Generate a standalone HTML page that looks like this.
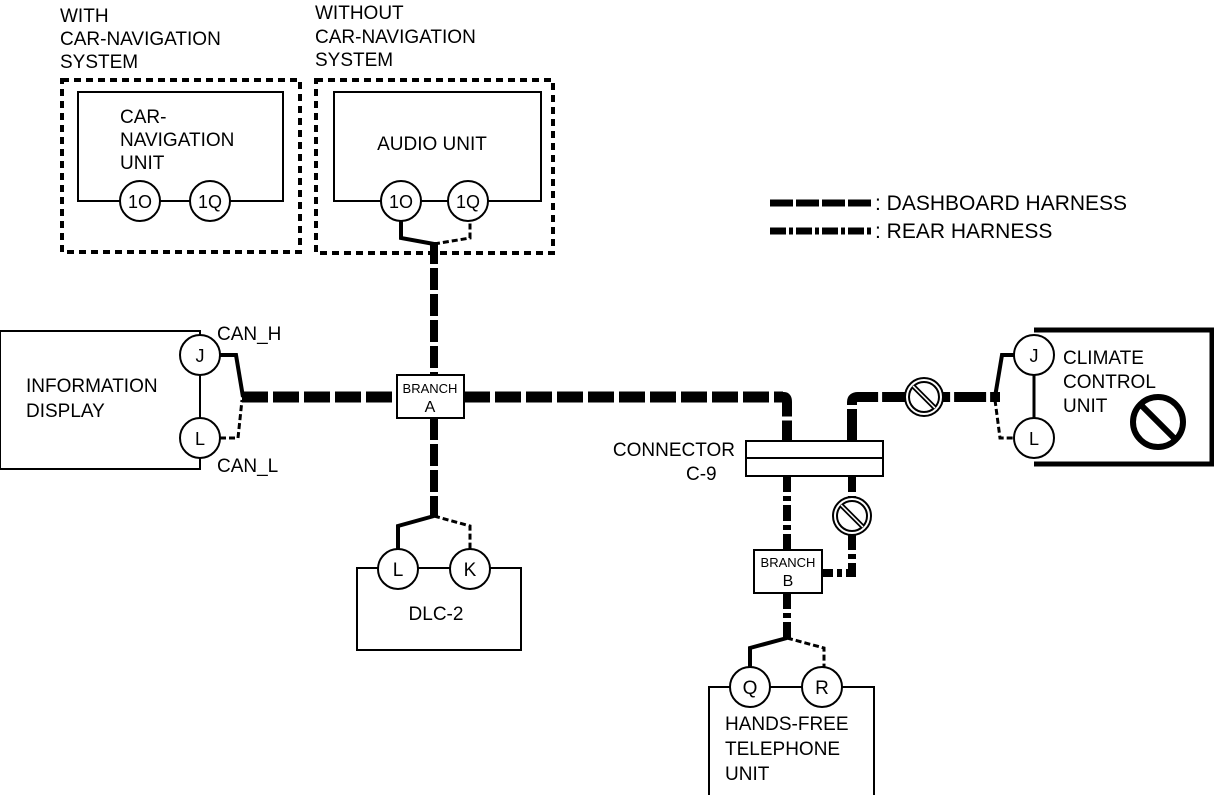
<!DOCTYPE html>
<html><head><meta charset="utf-8"><style>
html,body{margin:0;padding:0;background:#fff;}
svg{display:block;}
text{font-family:"Liberation Sans",Arial,sans-serif;fill:#000;}
</style></head><body>
<svg width="1214" height="795" viewBox="0 0 1214 795" xmlns="http://www.w3.org/2000/svg">
<g font-size="19">
<text x="60" y="22">WITH</text>
<text x="60" y="45">CAR-NAVIGATION</text>
<text x="60" y="68">SYSTEM</text>
<text x="315" y="19">WITHOUT</text>
<text x="315" y="43">CAR-NAVIGATION</text>
<text x="315" y="66">SYSTEM</text>
</g>
<!-- dashed boxes -->
<rect x="62" y="80" width="238" height="172" fill="none" stroke="#000" stroke-width="4" stroke-dasharray="7,5"/>
<rect x="316" y="80" width="237" height="173" fill="none" stroke="#000" stroke-width="4" stroke-dasharray="7,5"/>
<!-- car nav unit -->
<rect x="78" y="92" width="205" height="109" fill="none" stroke="#000" stroke-width="2"/>
<text x="120" y="123" font-size="19">CAR-</text>
<text x="120" y="146" font-size="19">NAVIGATION</text>
<text x="120" y="169" font-size="19">UNIT</text>
<circle cx="140" cy="201" r="20" fill="#fff" stroke="#000" stroke-width="2"/>
<circle cx="210" cy="201" r="20" fill="#fff" stroke="#000" stroke-width="2"/>
<text x="140" y="208" font-size="18" text-anchor="middle">1O</text>
<text x="210" y="208" font-size="18" text-anchor="middle">1Q</text>
<!-- audio unit -->
<rect x="334" y="92" width="207" height="109" fill="none" stroke="#000" stroke-width="2"/>
<text x="432" y="150" font-size="19" text-anchor="middle">AUDIO UNIT</text>
<circle cx="401" cy="201" r="20" fill="#fff" stroke="#000" stroke-width="2"/>
<circle cx="468" cy="201" r="20" fill="#fff" stroke="#000" stroke-width="2"/>
<text x="401" y="208" font-size="18" text-anchor="middle">1O</text>
<text x="468" y="208" font-size="18" text-anchor="middle">1Q</text>
<polyline points="401,221 401,238 434,244" fill="none" stroke="#000" stroke-width="4"/>
<polyline points="434,244 470,238 470,221" fill="none" stroke="#000" stroke-width="3" stroke-dasharray="6,3"/>
<line x1="434" y1="242" x2="434" y2="375" stroke="#000" stroke-width="8" stroke-dasharray="22,4"/>

<!-- legend -->
<line x1="770" y1="203" x2="872" y2="203" stroke="#000" stroke-width="7" stroke-dasharray="23,3"/>
<text x="875" y="210" font-size="21">: DASHBOARD HARNESS</text>
<line x1="770" y1="231" x2="872" y2="231" stroke="#000" stroke-width="7" stroke-dasharray="16,3,4,3"/>
<text x="875" y="238" font-size="21">: REAR HARNESS</text>

<!-- information display -->
<polyline points="200,340 200,331 0,331 0,469 200,469 200,458" fill="none" stroke="#000" stroke-width="2"/>
<line x1="200" y1="375" x2="200" y2="418" stroke="#000" stroke-width="2"/>
<circle cx="200" cy="355" r="20" fill="#fff" stroke="#000" stroke-width="2"/>
<circle cx="200" cy="438" r="20" fill="#fff" stroke="#000" stroke-width="2"/>
<text x="200" y="362" font-size="18" text-anchor="middle">J</text>
<text x="200" y="445" font-size="18" text-anchor="middle">L</text>
<text x="217" y="340" font-size="19">CAN_H</text>
<text x="217" y="472" font-size="19">CAN_L</text>
<text x="26" y="392" font-size="19">INFORMATION</text>
<text x="26" y="417" font-size="19">DISPLAY</text>
<polyline points="220,355 236,355 243,397" fill="none" stroke="#000" stroke-width="4"/>
<polyline points="220,438 238,438 242,400" fill="none" stroke="#000" stroke-width="3" stroke-dasharray="6,3"/>

<!-- main dashboard line -->
<line x1="242" y1="397" x2="397" y2="397" stroke="#000" stroke-width="11" stroke-dasharray="26,5"/>
<line x1="464" y1="397" x2="783" y2="397" stroke="#000" stroke-width="11" stroke-dasharray="26,5"/>
<path d="M780,397 L784,397 Q787,397 787,402 L787,441" fill="none" stroke="#000" stroke-width="10" stroke-dasharray="25,4"/>
<path d="M852,441 L852,402 Q852,397 858,397 L1000,397" fill="none" stroke="#000" stroke-width="10" stroke-dasharray="32,4"/>
<circle cx="924" cy="397" r="19" fill="#fff" stroke="#000" stroke-width="2"/>
<circle cx="924" cy="397" r="15" fill="none" stroke="#000" stroke-width="2"/>
<line x1="913" y1="386" x2="935" y2="408" stroke="#000" stroke-width="5"/>
<line x1="913" y1="386" x2="935" y2="408" stroke="#fff" stroke-width="1.5"/>

<!-- branch A -->
<rect x="397" y="375" width="67" height="43" fill="#fff" stroke="#000" stroke-width="2"/>
<text x="430" y="393" font-size="13" text-anchor="middle">BRANCH</text>
<text x="430" y="412" font-size="16" text-anchor="middle">A</text>
<line x1="434" y1="418" x2="434" y2="516" stroke="#000" stroke-width="8" stroke-dasharray="22,4"/>
<polyline points="434,516 398,526 398,551" fill="none" stroke="#000" stroke-width="4"/>
<polyline points="434,516 470,526 470,551" fill="none" stroke="#000" stroke-width="3" stroke-dasharray="6,3"/>

<!-- DLC-2 -->
<rect x="357" y="568" width="164" height="82" fill="none" stroke="#000" stroke-width="2"/>
<circle cx="398" cy="569" r="20" fill="#fff" stroke="#000" stroke-width="2"/>
<circle cx="470" cy="569" r="20" fill="#fff" stroke="#000" stroke-width="2"/>
<text x="398" y="576" font-size="19" text-anchor="middle">L</text>
<text x="470" y="576" font-size="19" text-anchor="middle">K</text>
<text x="436" y="620" font-size="19" text-anchor="middle">DLC-2</text>

<!-- connector C-9 -->
<rect x="746" y="441" width="137" height="35" fill="#fff" stroke="#000" stroke-width="2"/>
<line x1="746" y1="458" x2="883" y2="458" stroke="#000" stroke-width="2"/>
<text x="735" y="456" font-size="19" text-anchor="end">CONNECTOR</text>
<text x="686" y="480" font-size="19">C-9</text>

<!-- rear lines -->
<line x1="787" y1="476" x2="787" y2="550" stroke="#000" stroke-width="8" stroke-dasharray="16,4,5,4"/>
<polyline points="852,476 852,573 822,573" fill="none" stroke="#000" stroke-width="8" stroke-dasharray="16,4,5,4"/>
<circle cx="852" cy="516" r="19" fill="#fff" stroke="#000" stroke-width="2"/>
<circle cx="852" cy="516" r="15" fill="none" stroke="#000" stroke-width="2"/>
<line x1="841" y1="505" x2="863" y2="527" stroke="#000" stroke-width="5"/>
<line x1="841" y1="505" x2="863" y2="527" stroke="#fff" stroke-width="1.5"/>
<rect x="754" y="550" width="68" height="43" fill="#fff" stroke="#000" stroke-width="2"/>
<text x="788" y="567" font-size="13" text-anchor="middle">BRANCH</text>
<text x="788" y="586" font-size="16" text-anchor="middle">B</text>
<line x1="787" y1="593" x2="787" y2="638" stroke="#000" stroke-width="8" stroke-dasharray="16,4,5,4"/>
<polyline points="787,638 750,648 750,667" fill="none" stroke="#000" stroke-width="4"/>
<polyline points="787,638 824,648 824,667" fill="none" stroke="#000" stroke-width="3" stroke-dasharray="6,3"/>

<!-- hands-free -->
<rect x="709" y="687" width="165" height="110" fill="none" stroke="#000" stroke-width="2"/>
<circle cx="750" cy="687" r="20" fill="#fff" stroke="#000" stroke-width="2"/>
<circle cx="822" cy="687" r="20" fill="#fff" stroke="#000" stroke-width="2"/>
<text x="750" y="694" font-size="19" text-anchor="middle">Q</text>
<text x="822" y="694" font-size="19" text-anchor="middle">R</text>
<text x="725" y="730" font-size="19">HANDS-FREE</text>
<text x="725" y="755" font-size="19">TELEPHONE</text>
<text x="725" y="780" font-size="19">UNIT</text>

<!-- climate control -->
<polyline points="1034,330 1212,330 1212,464 1034,464" fill="none" stroke="#000" stroke-width="5"/>
<line x1="1034" y1="375" x2="1034" y2="418" stroke="#000" stroke-width="3"/>
<circle cx="1034" cy="355" r="20" fill="#fff" stroke="#000" stroke-width="2"/>
<circle cx="1034" cy="438" r="20" fill="#fff" stroke="#000" stroke-width="2"/>
<text x="1034" y="362" font-size="18" text-anchor="middle">J</text>
<text x="1034" y="445" font-size="18" text-anchor="middle">L</text>
<polyline points="1014,355 1002,355 995,397" fill="none" stroke="#000" stroke-width="4"/>
<polyline points="995,400 1000,438 1014,438" fill="none" stroke="#000" stroke-width="3" stroke-dasharray="6,3"/>
<text x="1063" y="364" font-size="19">CLIMATE</text>
<text x="1063" y="388" font-size="19">CONTROL</text>
<text x="1063" y="412" font-size="19">UNIT</text>
<circle cx="1158" cy="422" r="25" fill="none" stroke="#000" stroke-width="6"/>
<line x1="1141" y1="405" x2="1175" y2="439" stroke="#000" stroke-width="6"/>
</svg>
</body></html>
